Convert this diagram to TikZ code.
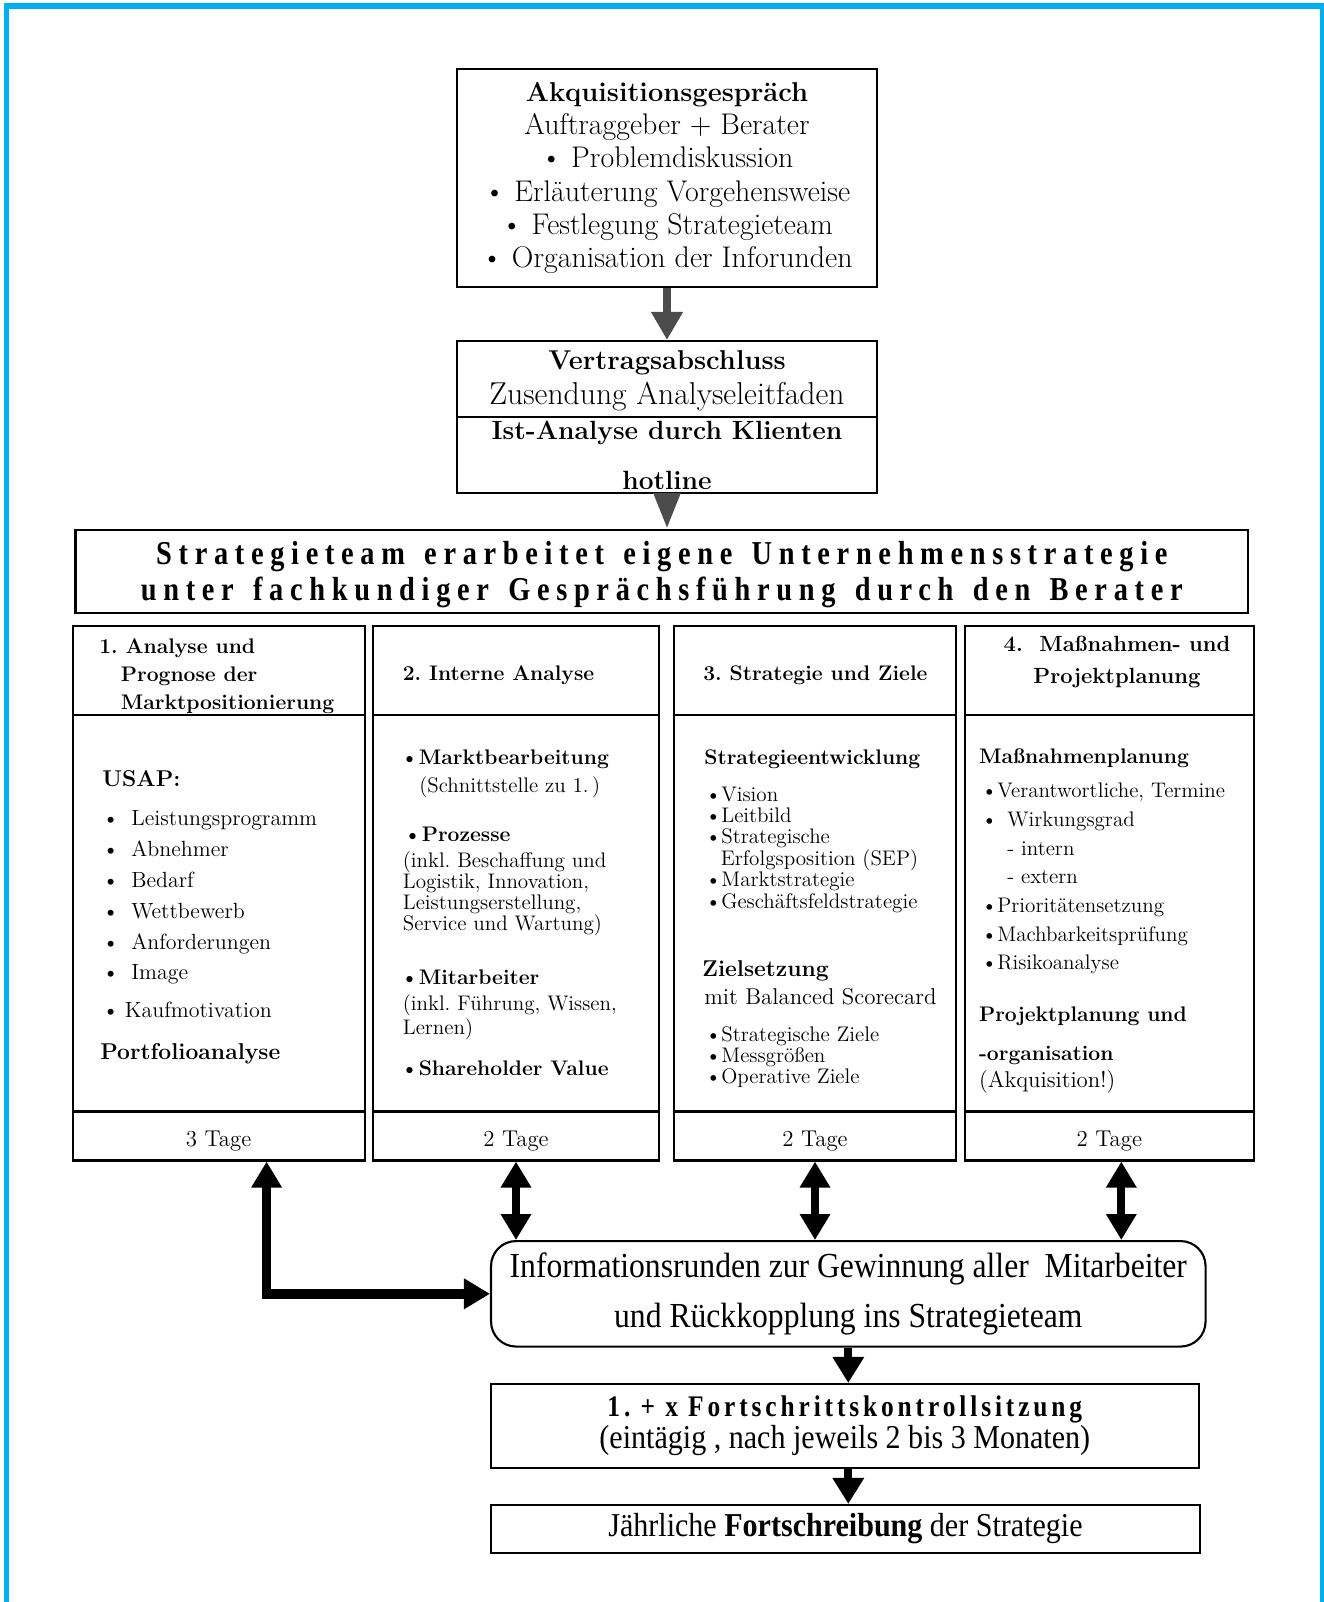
\documentclass[tikz,border=0pt]{standalone}
\usepackage{fontspec}
\usetikzlibrary{arrows.meta,calc,positioning}
\newfontfamily\headfont{Liberation Serif}[FakeStretch=0.85, LetterSpace=20, WordSpace=1.4]
\newfontfamily\sperrfont{Liberation Serif}[FakeStretch=0.85, LetterSpace=13]
\newfontfamily\narrowfont{Liberation Serif}[FakeStretch=0.9]
\definecolor{rahmen}{RGB}{0,176,240}
\newcommand{\fsize}[2]{\fontsize{#1}{#2}\selectfont}
\newcommand{\bul}[1]{\makebox[#1][l]{\textbullet}}
\frenchspacing

\tikzset{
  box/.style={draw, line width=1.2pt, inner sep=0pt},
  txt/.style={inner sep=0pt, text height=2ex, text depth=.15ex},
  item/.style={txt, anchor=west, font=\fsize{12}{14}},
  bitem/.style={txt, anchor=west, font=\fsize{12}{14}\bfseries},
  fat/.style={line width=4.5pt, -{Triangle[width=6mm,length=5.2mm]}},
  fatboth/.style={line width=4.5pt, {Triangle[width=5.8mm,length=5.2mm]}-{Triangle[width=5.8mm,length=5.2mm]}},
  stip/.style={line width=1.6mm, black!70, -{Triangle[width=6mm,length=5.6mm]}},
}

\begin{document}
\begin{tikzpicture}[x=0.2mm, y=-0.2mm]
\useasboundingbox (0,0) rectangle (1324,1602);
\draw[rahmen, line width=1.1mm] (6.5,1610) -- (6.5,6) -- (1323,6) -- (1323,1610);

% Akquisition und Vertrag
\node[box, minimum width=84mm, minimum height=43.5mm, align=center, font=\fsize{17}{18.9}] (akq) at (667,178) {{\fsize{15.5}{18.9}\bfseries Akquisitionsgespräch}\\ Auftraggeber + Berater\\ \textbullet{} Problemdiskussion\\ \textbullet{} Erläuterung Vorgehensweise\\ \textbullet{} Festlegung Strategieteam\\ \textbullet{} Organisation der Inforunden};
\path[use as bounding box] (0,0) rectangle (1324,1602);
\node[box, minimum width=84mm, minimum height=15.2mm] (vertrag) at (667,379) {};
\node[txt, font=\fsize{15.5}{18}\bfseries] (v1) at (667,362) {Vertragsabschluss};
\node[txt, font=\fsize{18}{18}] (v2) at (667,397) {Zusendung Analyseleitfaden};
\node[box, minimum width=84mm, minimum height=15.2mm] (ist) at (667,455) {};
\node[txt, font=\fsize{15}{17}\bfseries] (ist1) at (667,432) {Ist-Analyse durch Klienten};
\node[txt, font=\fsize{15}{17}\bfseries] (hot) at (667,482) {hotline};

% Strategieteam
\node[box, minimum width=234.5mm, minimum height=16.6mm] (team) at (661.8,571.5) {};
\node[inner sep=0pt, align=center, font=\headfont\fsize{19}{20.1}\bfseries] (teamtxt) at (661.8,574.5) {Strategieteam erarbeitet eigene Unternehmensstrategie\\ unter fachkundiger Gesprächsführung durch den Berater};

\draw[stip] (akq.south) -- (vertrag.north);
\draw[stip, -{Triangle[width=5mm,length=7.2mm]}] (ist.south) -- (ist.south |- team.north);

% vier Spalten
\foreach \n/\x/\w/\d in {1/218.6/58.4/3, 2/516/57.2/2, 3/815/56.4/2, 4/1109.3/57.7/2}{
  \node[box, minimum width=\w mm, minimum height=17.8mm] (h\n) at (\x,670.5) {};
  \node[box, minimum width=\w mm, minimum height=79.3mm] (b\n) at (\x,913.3) {};
  \node[box, minimum width=\w mm, minimum height=9.8mm] (f\n) at (\x,1136) {};
  \node[txt, font=\fsize{13}{15}] (t\n) at (\x,1139) {\d~Tage};
}

% 1. Analyse
\node[bitem] (a1) at (99,646) {1. Analyse und};
\node[bitem] (a2) at (120.5,674) {Prognose der};
\node[bitem] (a3) at (120.5,702) {Marktpositionierung};
\node[bitem, font=\fsize{13}{15}\bfseries] (usap) at (102,779.5) {USAP:};
\foreach \t [count=\i] in {Leistungsprogramm, Abnehmer, Bedarf, Wettbewerb, Anforderungen, Image}
  \node[item, font=\fsize{12.5}{15}] (u\i) at (102,787.5+30.9*\i) {\bul{5.8mm}\t};
\node[item, font=\fsize{12.5}{15}] (u7) at (102,1010) {\bul{4.5mm}Kaufmotivation};
\node[bitem, font=\fsize{13}{15}\bfseries] (pf) at (100,1052) {Portfolioanalyse};

% 2. Interne Analyse
\node[bitem] (i0) at (402.5,673) {2. Interne Analyse};
\node[bitem] (i1) at (400,757) {\textbullet Marktbearbeitung};
\node[item] (i1a) at (419,785.6) {(Schnittstelle zu 1.\,)};
\node[bitem] (i2) at (403,834.6) {\textbullet Prozesse};
\foreach \t [count=\i] in {{(inkl. Beschaffung und}, {Logistik, Innovation,}, {Leistungserstellung,}, {Service und Wartung)}}
  \node[item] (i2\i) at (402.5,838.8+21.2*\i) {\t};
\node[bitem] (i3) at (400,977.7) {\textbullet Mitarbeiter};
\node[item] (i31) at (402.5,1003) {(inkl. Führung, Wissen,};
\node[item] (i32) at (402.5,1027.7) {Lernen)};
\node[bitem] (i4) at (400,1068.6) {\textbullet Shareholder Value};

% 3. Strategie und Ziele
\node[bitem] (z0) at (703,673) {3. Strategie und Ziele};
\node[bitem] (z1) at (704,757) {Strategieentwicklung};
\foreach \t [count=\i] in {{\bul{3.2mm}Vision}, {\bul{3.2mm}Leitbild}, {\bul{3.2mm}Strategische}, {\hspace{3.1mm}Erfolgsposition (SEP)}, {\bul{3.2mm}Marktstrategie}, {\bul{3.2mm}Geschäftsfeldstrategie}}
  \node[item] (z1\i) at (705,772.6+21.4*\i) {\t};
\node[bitem, font=\fsize{13}{15}\bfseries] (z2) at (702,969.5) {Zielsetzung};
\node[item, font=\fsize{13}{15}] (z2a) at (704,997) {mit Balanced Scorecard};
\foreach \t [count=\i] in {Strategische Ziele, Messgrößen, Operative Ziele}
  \node[item] (z2\i) at (705,1013+21*\i) {\bul{3.2mm}\t};

% 4. Massnahmen
\node[inner sep=0pt, align=center, font=\fsize{12.5}{18.4}\bfseries] (p0) at (1117,662) {4.~~Maßnahmen- und\\ Projektplanung};
\node[bitem] (p1) at (978.7,756) {Maßnahmenplanung};
\foreach \t [count=\i] in {{\bul{3.2mm}Verantwortliche, Termine}, {\bul{5.2mm}Wirkungsgrad}, {\hspace{5.2mm}- intern}, {\hspace{5.2mm}- extern}, {\bul{3.2mm}Prioritätensetzung}, {\bul{3.2mm}Machbarkeitsprüfung}, {\bul{3.2mm}Risikoanalyse}}
  \node[item] (p1\i) at (981,762+28.7*\i) {\t};
\node[bitem] (p2) at (978.7,1014.5) {Projektplanung und};
\node[bitem] (p3) at (978.7,1053) {-organisation};
\node[item, font=\fsize{13}{15}] (p4) at (978.7,1080) {(Akquisition!)};

% Informationsrunden und Kontrolle
\node[box, rounded corners=5mm, minimum width=142.9mm, minimum height=21.1mm, align=center, font=\narrowfont\fsize{20}{28.4}] (info) at (848.3,1293.8) {Informationsrunden zur Gewinnung aller\ \ Mitarbeiter\\ und Rückkopplung ins Strategieteam};
\node[box, minimum width=141.5mm, minimum height=16.8mm, align=center, font=\narrowfont\fsize{19}{18.4}] (fort) at (844.8,1426) {{\sperrfont\fsize{17}{18.4}\bfseries 1. + x Fortschrittskontrollsitzung}\\ (eintägig , nach jeweils 2 bis 3 Monaten)};
\node[box, minimum width=141.8mm, minimum height=9.6mm, font=\narrowfont\fsize{19}{18}] (jahr) at (845.5,1529) {Jährliche \textbf{Fortschreibung} der Strategie};

\coordinate (f1a) at ($(f1.south)+(48,0)$);
\coordinate (f4a) at ($(f4.south)+(12,0)$);
\draw[fatboth, line width=5.5pt] (f1a) |- (info.west);
\draw[fatboth] (f2.south) -- (f2.south |- info.north);
\draw[fatboth] (f3.south) -- (f3.south |- info.north);
\draw[fatboth] (f4a) -- (f4a |- info.north);
\draw[fat] (info.south) -- (info.south |- fort.north);
\draw[fat] (info.south |- fort.south) -- (info.south |- jahr.north);
\end{tikzpicture}
\end{document}
